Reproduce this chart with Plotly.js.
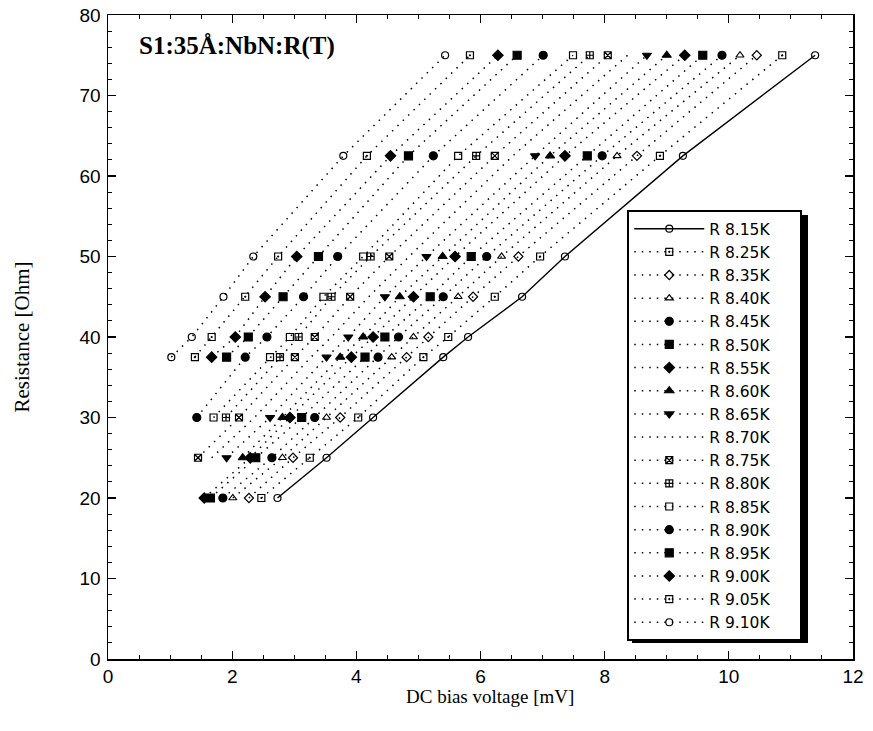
<!DOCTYPE html>
<html>
<head>
<meta charset="utf-8">
<script src="https://cdn.plot.ly/plotly-3.0.1.min.js"></script>
<style>
  html, body { margin: 0; padding: 0; background: #fff; }
  #chart { width: 873px; height: 731px; }
</style>
</head>
<body>
<div id="chart"></div>
<script>
// Resistance levels (Ohm) at which the bias voltage was recorded
const resistance = [20, 25, 30, 37.5, 40, 45, 50, 62.5, 75];

// DC bias voltage (mV) per temperature, one entry per resistance level
const v815 = [2.73, 3.52, 4.27, 5.40, 5.80, 6.67, 7.36, 9.26, 11.39];
const v825 = [2.47, 3.25, 4.03, 5.08, 5.48, 6.23, 6.96, 8.89, 10.86];
const v835 = [2.27, 2.98, 3.74, 4.81, 5.16, 5.88, 6.61, 8.52, 10.45];
const v840 = [2.01, 2.81, 3.52, 4.57, 4.92, 5.64, 6.34, 8.20, 10.18];
const v845 = [1.85, 2.64, 3.33, 4.35, 4.68, 5.40, 6.10, 7.96, 9.89];
const v850 = [1.65, 2.38, 3.12, 4.14, 4.46, 5.19, 5.85, 7.72, 9.58];
const v855 = [1.55, 2.29, 2.93, 3.92, 4.27, 4.92, 5.59, 7.36, 9.29];
const v860 = [null, 2.17, 2.81, 3.74, 4.11, 4.70, 5.39, 7.12, 9.00];
const v865 = [null, 1.91, 2.61, 3.52, 3.87, 4.46, 5.13, 6.88, 8.68];
const v870 = [null, 1.67, 2.36, 3.27, 3.60, 4.20, 4.85, 6.52, 8.37];
const v875 = [null, 1.45, 2.11, 3.01, 3.33, 3.90, 4.53, 6.23, 8.05];
const v880 = [null, null, 1.90, 2.77, 3.07, 3.60, 4.23, 5.93, 7.76];
const v885 = [null, null, 1.70, 2.61, 2.93, 3.47, 4.11, 5.64, 7.49];
const v890 = [null, null, 1.43, 2.21, 2.56, 3.15, 3.70, 5.24, 7.01];
const v895 = [null, null, null, 1.91, 2.26, 2.82, 3.39, 4.84, 6.59];
const v900 = [null, null, null, 1.67, 2.05, 2.53, 3.04, 4.55, 6.28];
const v905 = [null, null, null, 1.40, 1.67, 2.21, 2.74, 4.17, 5.83];
const v910 = [null, null, null, 1.02, 1.35, 1.86, 2.34, 3.79, 5.43];

const seriesNames = ['R 8.15K', 'R 8.25K', 'R 8.35K', 'R 8.40K', 'R 8.45K', 'R 8.50K',
  'R 8.55K', 'R 8.60K', 'R 8.65K', 'R 8.70K', 'R 8.75K', 'R 8.80K', 'R 8.85K',
  'R 8.90K', 'R 8.95K', 'R 9.00K', 'R 9.05K', 'R 9.10K'];
const seriesValues = [v815, v825, v835, v840, v845, v850, v855, v860, v865, v870,
  v875, v880, v885, v890, v895, v900, v905, v910];

// Marker symbol for each temperature (null = line only)
const symbols = ['circle-open', 'square-open-dot', 'diamond-open', 'triangle-up-open',
  'circle', 'square', 'diamond', 'triangle-up', 'triangle-down', null,
  'square-x-open', 'square-cross-open', 'square-open', 'circle', 'square', 'diamond',
  'square-open-dot', 'circle-open'];

const dotted = '1.5px,6px';
// trailing no-break spaces give the legend box some room on the right
const legendPad = '\u00a0'.repeat(5);

const traces = seriesNames.map((name, i) => {
  const sym = symbols[i];
  const trace = {
    type: 'scatter',
    name: name + legendPad,
    x: seriesValues[i],
    y: resistance,
    mode: sym ? 'lines+markers' : 'lines',
    line: { color: '#000', width: i === 0 ? 1.4 : 1.5, dash: i === 0 ? 'solid' : dotted },
    hoverinfo: 'x+y+name'
  };
  if (sym) {
    const open = sym.indexOf('open') >= 0;
    trace.marker = {
      symbol: sym,
      size: open ? 7 : 8,
      color: '#000',
      line: { color: '#000', width: 1.2 }
    };
  }
  return trace;
});

const axisCommon = {
  showline: true,
  linecolor: '#000',
  linewidth: 1.5,
  mirror: 'ticks',
  ticks: 'inside',
  ticklen: 8,
  tickwidth: 1.2,
  tickcolor: '#000',
  showgrid: false,
  zeroline: false,
  tickfont: { family: 'Liberation Sans, Arial, sans-serif', size: 19, color: '#000' }
};

const serif = 'Liberation Serif, Times New Roman, serif';

const layout = {
  width: 873,
  height: 731,
  margin: { l: 108, r: 20, t: 15, b: 72 },
  paper_bgcolor: '#fff',
  plot_bgcolor: '#fff',
  showlegend: true,
  xaxis: Object.assign({}, axisCommon, {
    range: [0, 12],
    dtick: 2,
    tick0: 0,
    minor: { dtick: 0.5, ticks: 'inside', ticklen: 4, tickwidth: 1, tickcolor: '#000' }
  }),
  yaxis: Object.assign({}, axisCommon, {
    range: [0, 80],
    dtick: 10,
    tick0: 0,
    ticklabelstandoff: 2,
    minor: { dtick: 2, ticks: 'inside', ticklen: 4, tickwidth: 1, tickcolor: '#000' },
    title: {
      text: 'Resistance [Ohm]',
      font: { family: serif, size: 21, color: '#000' },
      standoff: 44
    }
  }),
  legend: {
    x: 0.697,
    y: 0.697,
    xanchor: 'left',
    yanchor: 'top',
    bgcolor: '#fff',
    bordercolor: '#000',
    borderwidth: 2,
    itemwidth: 70,
    tracegroupgap: 0,
    font: { family: 'DejaVu Sans, Liberation Sans, sans-serif', size: 15.5, color: '#000' }
  },
  // solid drop shadow along the right and bottom of the legend box
  shapes: [{
    type: 'rect', xref: 'paper', yref: 'paper', layer: 'below',
    x0: 0.7034, x1: 0.9396, y0: 0.0248, y1: 0.6894,
    fillcolor: '#000', line: { width: 0 }
  }],
  annotations: [{
    text: '<b>S1:35Å:NbN:R(T)</b>',
    xref: 'paper', yref: 'paper',
    x: 0.039, y: 0.952,
    xanchor: 'left', yanchor: 'middle',
    showarrow: false,
    font: { family: serif, size: 25, color: '#000' }
  }, {
    text: 'DC bias voltage [mV]',
    xref: 'paper', yref: 'paper',
    x: 0.513, y: -0.059,
    xanchor: 'center', yanchor: 'middle',
    showarrow: false,
    font: { family: serif, size: 19, color: '#000' }
  }]
};

Plotly.newPlot('chart', traces, layout, { displayModeBar: false, staticPlot: true });
</script>
</body>
</html>
